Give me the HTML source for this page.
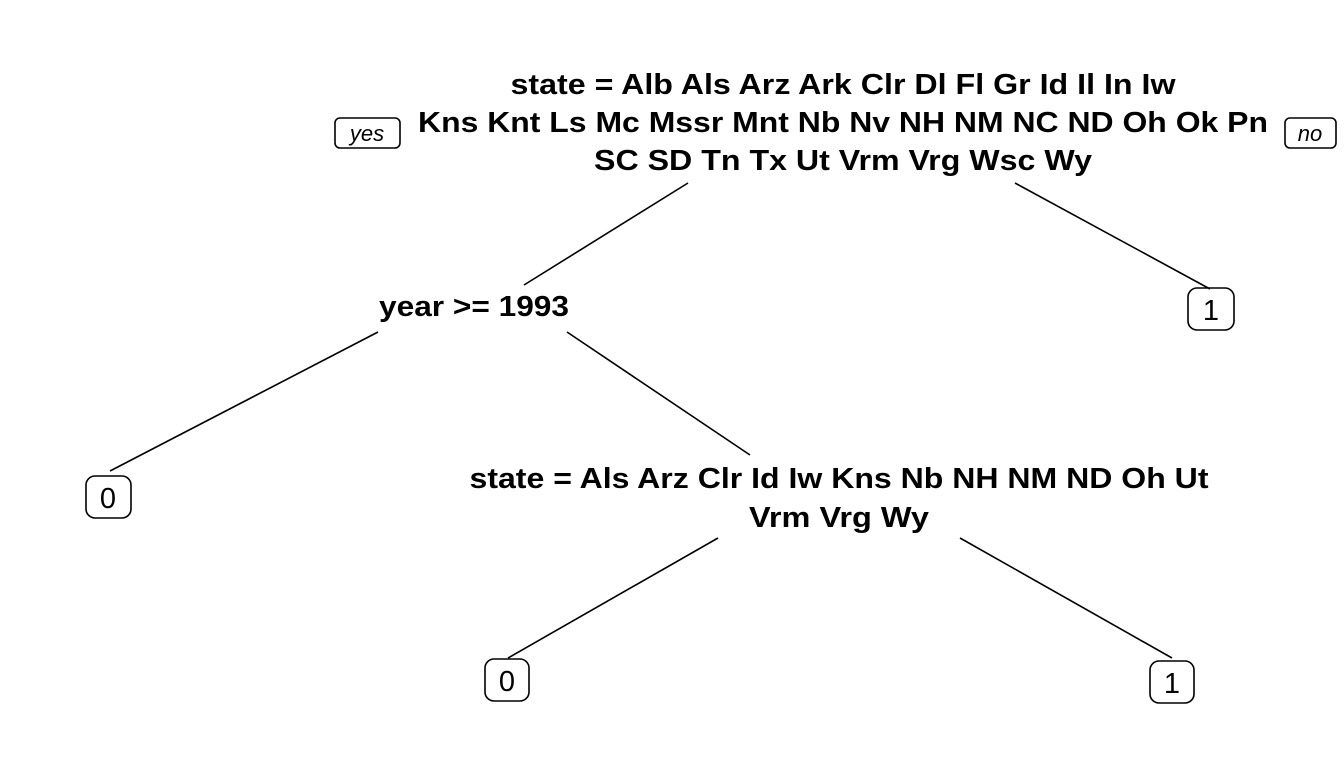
<!DOCTYPE html>
<html><head><style>body{margin:0;background:#fff}svg{display:block}</style></head>
<body>
<svg width="1344" height="768" xmlns="http://www.w3.org/2000/svg" font-family="Liberation Sans, Arial, sans-serif">
<rect width="1344" height="768" fill="#fff"/>
<g stroke="#000" stroke-width="1.6" fill="none">
<line x1="688" y1="183" x2="524" y2="285"/>
<line x1="1015" y1="183" x2="1210" y2="289"/>
<line x1="378" y1="332" x2="110" y2="471"/>
<line x1="567" y1="332" x2="750" y2="455"/>
<line x1="718" y1="538" x2="508" y2="658"/>
<line x1="960" y1="538" x2="1172" y2="658"/>
<rect x="335" y="118" width="65" height="30" rx="5"/>
<rect x="1285" y="118" width="51" height="30" rx="5"/>
<rect x="1188" y="288" width="46" height="42" rx="9"/>
<rect x="86" y="476" width="45" height="42" rx="9"/>
<rect x="485" y="659" width="44" height="42" rx="9"/>
<rect x="1150" y="661" width="44" height="42" rx="9"/>
</g>
<g font-weight="bold" font-size="29" text-anchor="middle" fill="#000">
<text x="843" y="94" textLength="665" lengthAdjust="spacingAndGlyphs">state = Alb Als Arz Ark Clr Dl Fl Gr Id Il In Iw</text>
<text x="843" y="132" textLength="850" lengthAdjust="spacingAndGlyphs">Kns Knt Ls Mc Mssr Mnt Nb Nv NH NM NC ND Oh Ok Pn</text>
<text x="843" y="170" textLength="498" lengthAdjust="spacingAndGlyphs">SC SD Tn Tx Ut Vrm Vrg Wsc Wy</text>
<text x="474" y="316" textLength="190" lengthAdjust="spacingAndGlyphs">year &gt;= 1993</text>
<text x="839" y="488" textLength="739" lengthAdjust="spacingAndGlyphs">state = Als Arz Clr Id Iw Kns Nb NH NM ND Oh Ut</text>
<text x="839" y="527" textLength="180" lengthAdjust="spacingAndGlyphs">Vrm Vrg Wy</text>
</g>
<g font-size="22" font-style="italic" text-anchor="middle">
<text x="367" y="141">yes</text>
<text x="1310" y="141">no</text>
</g>
<g font-size="29" text-anchor="middle">
<text x="1211" y="320">1</text>
<text x="108" y="508">0</text>
<text x="507" y="691">0</text>
<text x="1172" y="693">1</text>
</g>
</svg>
</body></html>
